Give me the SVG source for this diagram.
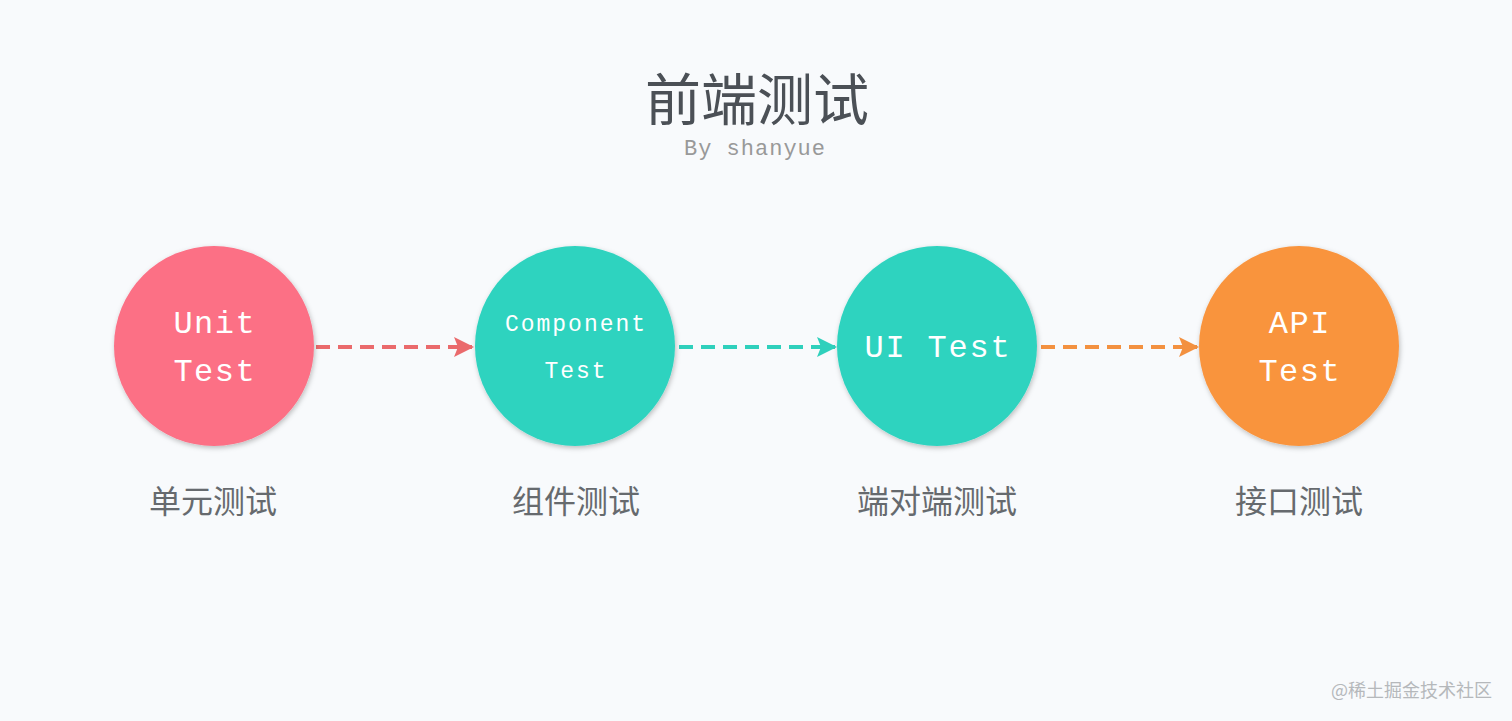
<svg xmlns="http://www.w3.org/2000/svg" width="1512" height="721" viewBox="0 0 1512 721">
<defs>
<filter id="sh" x="-20%" y="-20%" width="140%" height="140%">
<feDropShadow dx="1" dy="2" stdDeviation="2.5" flood-color="#000" flood-opacity="0.25"/>
</filter>
<marker id="mr" viewBox="0 0 10 10" refX="9" refY="5" markerWidth="5" markerHeight="5" orient="auto" markerUnits="strokeWidth"><path d="M0,0 L10,5 L0,10 L2,5 Z" fill="#ea6a6c"/></marker>
<marker id="mt" viewBox="0 0 10 10" refX="9" refY="5" markerWidth="5" markerHeight="5" orient="auto" markerUnits="strokeWidth"><path d="M0,0 L10,5 L0,10 L2,5 Z" fill="#2fd0bc"/></marker>
<marker id="mo" viewBox="0 0 10 10" refX="9" refY="5" markerWidth="5" markerHeight="5" orient="auto" markerUnits="strokeWidth"><path d="M0,0 L10,5 L0,10 L2,5 Z" fill="#f39140"/></marker>
</defs>
<style>
.ct{font-family:"Liberation Mono","DejaVu Sans Mono",monospace;fill:#fff;text-anchor:middle}
.lb{font-family:"Noto Sans CJK SC",sans-serif;fill:#666a6e;font-size:32px;text-anchor:middle}
.ar{stroke-width:4;stroke-dasharray:14 8;fill:none}
</style>
<rect width="1512" height="721" fill="#f8fafc"/>
<g id="title">
<text x="757" y="120" font-family="'Noto Sans CJK SC',sans-serif" font-size="56" fill="#4b5056" text-anchor="middle">前端测试</text>
<text x="755" y="155" font-family="'Liberation Mono',monospace" font-size="22" letter-spacing="1" fill="#999" text-anchor="middle">By shanyue</text>
</g>
<g id="connectors">
<line class="ar" x1="316" y1="347" x2="472" y2="347" stroke="#ea6a6c" marker-end="url(#mr)"/>
<line class="ar" x1="679" y1="347" x2="835" y2="347" stroke="#2fd0bc" marker-end="url(#mt)"/>
<line class="ar" x1="1041" y1="347" x2="1197" y2="347" stroke="#f39140" marker-end="url(#mo)"/>
</g>
<g id="unit">
<circle cx="214" cy="346" r="100" fill="#fc6f85" filter="url(#sh)"/>
<text class="ct" x="214.8" y="333" font-size="32" letter-spacing="1.5">Unit</text>
<text class="ct" x="214.8" y="381" font-size="32" letter-spacing="1.5">Test</text>
<text class="lb" x="213" y="513">单元测试</text>
</g>
<g id="component">
<circle cx="575" cy="346" r="100" fill="#2fd3bf" filter="url(#sh)"/>
<text class="ct" x="576" y="331" font-size="23" letter-spacing="2">Component</text>
<text class="ct" x="576" y="378" font-size="23" letter-spacing="2">Test</text>
<text class="lb" x="576" y="513">组件测试</text>
</g>
<g id="ui">
<circle cx="937" cy="346" r="100" fill="#2fd3bf" filter="url(#sh)"/>
<text class="ct" x="937.9" y="357" font-size="32" letter-spacing="1.8">UI Test</text>
<text class="lb" x="937" y="513">端对端测试</text>
</g>
<g id="api">
<circle cx="1299" cy="346" r="100" fill="#f9943e" filter="url(#sh)"/>
<text class="ct" x="1299.8" y="333" font-size="32" letter-spacing="1.5">API</text>
<text class="ct" x="1299.8" y="381" font-size="32" letter-spacing="1.5">Test</text>
<text class="lb" x="1299" y="513">接口测试</text>
</g>
<text x="1492" y="697" font-family="'Noto Sans CJK SC',sans-serif" font-size="18" fill="#b5b8bb" text-anchor="end">@稀土掘金技术社区</text>
</svg>
